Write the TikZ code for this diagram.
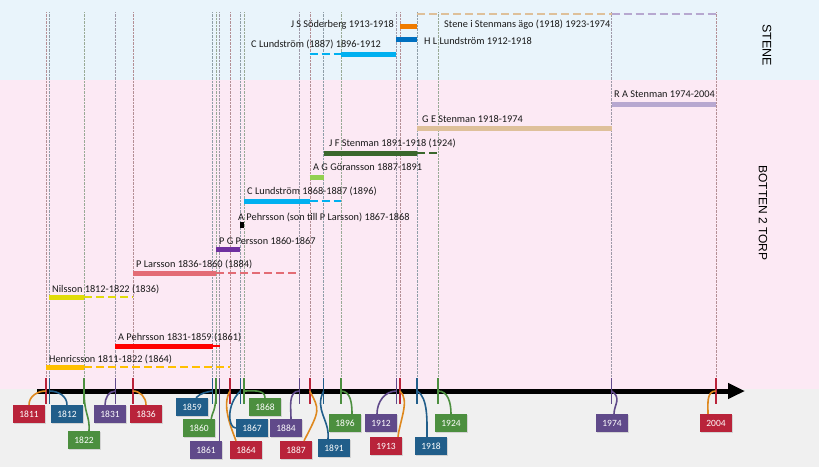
\documentclass[tikz,border=0pt]{standalone}
\usepackage{fontspec}
\setmainfont{Carlito}
\newfontfamily\sidefont{Liberation Sans}
\usetikzlibrary{arrows.meta, shadows}

% Backgrounds
\definecolor{stenebg}{RGB}{233,244,251}
\definecolor{bottenbg}{RGB}{252,233,244}
\definecolor{axisbg}{RGB}{240,240,240}
% Year boxes
\definecolor{boxred}{RGB}{185,35,58}
\definecolor{boxblue}{RGB}{33,94,138}
\definecolor{boxgreen}{RGB}{76,143,63}
\definecolor{boxpurple}{RGB}{96,74,138}
\definecolor{linkorange}{RGB}{222,136,30}
% Owners
\definecolor{henric}{RGB}{255,192,0}
\definecolor{apehr}{RGB}{255,0,0}
\definecolor{nilsson}{RGB}{224,220,10}
\definecolor{plarsson}{RGB}{227,108,117}
\definecolor{pgpersson}{RGB}{112,48,160}
\definecolor{clund}{RGB}{0,176,240}
\definecolor{agoran}{RGB}{146,208,80}
\definecolor{jfsten}{RGB}{58,104,44}
\definecolor{gesten}{RGB}{222,192,154}
\definecolor{rasten}{RGB}{183,168,208}
\definecolor{hllund}{RGB}{0,112,192}
\definecolor{jssod}{RGB}{240,124,0}

\newcommand{\yr}[1]{46+(#1-1811)*3.47}

\begin{document}
\begin{tikzpicture}[x=1pt, y=-1pt,
    every node/.style={inner sep=0pt, font=\fontsize{10.3}{12}\selectfont},
    bar/.style={line width=5pt},
    thinbar/.style={line width=2.6pt},
    later/.style={line width=2.6pt, dash pattern=on 8pt off 4pt},
    who/.style={anchor=base west, text=black!90},
    guide/.style={line width=0.4pt, densely dotted},
    yeartick/.style={line width=1.6pt},
    yearbox/.style={rectangle, minimum width=32pt, minimum height=18pt,
        text=white, font=\fontsize{9.5}{10}\selectfont,
        drop shadow={opacity=0.25, shadow xshift=1pt, shadow yshift=-1pt}},
    link/.style={line width=1.6pt}
]
    \useasboundingbox (0,0) rectangle (819,467);

    % Bands
    \fill[stenebg] (0,0) rectangle (819,80);
    \fill[bottenbg] (0,80) rectangle (819,389);
    \fill[axisbg] (0,389) rectangle (819,467);

    \node[rotate=-90, font=\sidefont\fontsize{12.5}{14}\selectfont] (stene) at (767,45) {STENE};
    \node[rotate=-90, font=\sidefont\fontsize{12}{14}\selectfont] (botten) at (763,213) {BOTTEN 2 TORP};

    % Year marks and guide lines
    \foreach \y/\c in {1811/boxred, 1812/boxblue, 1822/boxgreen, 1831/boxpurple,
        1836/boxred, 1859/boxblue, 1860/boxgreen, 1861/boxpurple, 1864/boxred,
        1867/boxblue, 1868/boxgreen, 1884/boxpurple, 1887/boxred, 1891/boxblue,
        1896/boxgreen, 1912/boxpurple, 1913/boxred, 1918/boxblue, 1924/boxgreen,
        1974/boxpurple, 2004/boxred} {
        \coordinate (t\y) at ({\yr{\y}},391);
        \draw[guide, \c!35!gray!70] ([yshift=13pt]t\y) -- (t\y |- 0,12);
    }

    % Botten 2 Torp
    \draw[bar, henric] ({\yr{1811}},367) -- ({\yr{1822}},367);
    \draw[later, henric] ({\yr{1822}},367) -- ({\yr{1864}},367);
    \node[who] (henricsson) at (49,362.5) {Henricsson 1811-1822 (1864)};

    \draw[bar, apehr] ({\yr{1831}},346) -- ({\yr{1859}},346);
    \draw[thinbar, apehr] ({\yr{1859}},346) -- ({\yr{1861}},346);
    \node[who] (apehrsson) at (118,340.5) {A Pehrsson 1831-1859 (1861)};

    \draw[bar, nilsson] ({\yr{1812}},297) -- ({\yr{1822}},297);
    \draw[later, nilsson] ({\yr{1822}},297) -- ({\yr{1836}},297);
    \node[who] (nilsson) at (52,292.5) {Nilsson 1812-1822 (1836)};

    \draw[bar, plarsson] ({\yr{1836}},273) -- ({\yr{1860}},273);
    \draw[later, plarsson] ({\yr{1860}},273) -- ({\yr{1884}},273);
    \node[who] (plarsson) at (136,267.5) {P Larsson 1836-1860 (1884)};

    \draw[bar, pgpersson] ({\yr{1860}},249) -- ({\yr{1867}},249);
    \node[who] (pgpersson) at (219,244.5) {P G Persson 1860-1867};

    \draw[line width=6pt, black] ({\yr{1867}},225) -- ({\yr{1868}},225);
    \node[who] (apehrson) at (238,220.5) {A Pehrsson (son till P Larsson) 1867-1868};

    \draw[bar, clund] ({\yr{1868}},201) -- ({\yr{1887}},201);
    \draw[later, clund] ({\yr{1887}},201) -- ({\yr{1896}},201);
    \node[who] (clundstrom) at (247,194.5) {C Lundström 1868-1887 (1896)};

    \draw[bar, agoran] ({\yr{1887}},177) -- ({\yr{1891}},177);
    \node[who] (agoransson) at (313,170.5) {A G Göransson 1887-1891};

    \draw[bar, jfsten] ({\yr{1891}},153) -- ({\yr{1918}},153);
    \draw[later, jfsten] ({\yr{1918}},153) -- ({\yr{1924}},153);
    \node[who] (jfstenman) at (329,146.5) {J F Stenman 1891-1918 (1924)};

    \draw[bar, gesten] ({\yr{1918}},128) -- ({\yr{1974}},128);
    \node[who] (gestenman) at (422,122.5) {G E Stenman 1918-1974};

    \draw[bar, rasten] ({\yr{1974}},104) -- ({\yr{2004}},104);
    \node[who] (rastenman) at (614,97.5) {R A Stenman 1974-2004};

    % Stene
    \draw[later, clund] ({\yr{1887}},54) -- ({\yr{1896}},54);
    \draw[bar, clund] ({\yr{1896}},54) -- ({\yr{1912}},54);
    \node[who] (clundstene) at (251,47.5) {C Lundström (1887) 1896-1912};

    \draw[bar, hllund] ({\yr{1912}},39) -- ({\yr{1918}},39);
    \node[who] (hllundstrom) at (424,44.5) {H L Lundström 1912-1918};

    \draw[bar, jssod] ({\yr{1913}},26) -- ({\yr{1918}},26);
    \node[who, anchor=base east] (jssoderberg) at (394,27.5) {J S Söderberg 1913-1918};

    \draw[later, gesten] ({\yr{1918}},14) -- ({\yr{1974}},14);
    \draw[later, rasten] ({\yr{1974}},14) -- ({\yr{2004}},14);
    \node[who] (stenmans) at (444,27.5) {Stene i Stenmans ägo (1918) 1923-1974};

    % Time axis
    \coordinate (axisL) at (37,391);
    \coordinate (axisR) at (745,391);
    \draw[line width=5pt, -{Triangle[length=17pt, width=15pt]}] (axisL) -- (axisR);

    % Year boxes
    \foreach \y/\c/\bx/\by in {1811/boxred/29/414, 1812/boxblue/67/414,
        1822/boxgreen/84/440, 1831/boxpurple/110/414, 1836/boxred/146/414,
        1859/boxblue/192/407, 1860/boxgreen/199/428, 1861/boxpurple/206/450,
        1864/boxred/246/450, 1867/boxblue/252/428, 1868/boxgreen/265/407,
        1884/boxpurple/286/428, 1887/boxred/296/450, 1891/boxblue/334/448,
        1896/boxgreen/345/423, 1912/boxpurple/381/423, 1913/boxred/386/446,
        1918/boxblue/431/446, 1924/boxgreen/451/423, 1974/boxpurple/612/423,
        2004/boxred/716/423} {
        \draw[yeartick, \c] ([yshift=13pt]t\y) -- ([yshift=-13pt]t\y);
        \node[yearbox, fill=\c] (y\y) at (\bx,\by) {\y};
    }

    % Links from marks to boxes
    \draw[link, linkorange] (t1811) to[out=180, in=90] (y1811.north);
    \draw[link, boxblue] (t1812) to[out=0, in=90] (y1812.north);
    \draw[link, boxgreen] (t1822) .. controls (84,415) and (90,415) .. ([xshift=5pt]y1822.north);
    \draw[link, boxpurple] (t1831) to[out=180, in=90] ([xshift=-5pt]y1831.north);
    \draw[link, linkorange] (t1836) to[out=0, in=90] (y1836.north);
    \draw[link, boxblue] (t1859) to[out=190, in=45] ([xshift=4pt]y1859.north);
    \draw[link, boxgreen] (t1860) .. controls (216,412) and (212,412) .. ([xshift=-4pt]y1860.north east);
    \draw[link, boxpurple] (t1861) -- (t1861 |- y1861.north);
    \draw[link, linkorange] (t1864) .. controls (222,405) and (230,425) .. ([xshift=-10pt]y1864.north);
    \draw[link, boxblue] (t1867) .. controls (226,405) and (228,428) .. (y1867.west);
    \draw[link, boxgreen] (t1868) to[out=0, in=90] (y1868.north);
    \draw[link, boxpurple] (t1884) to[out=180, in=90] ([xshift=5pt]y1884.north);
    \draw[link, linkorange] (t1887) .. controls (320,410) .. ([xshift=8pt]y1887.north);
    \draw[link, boxblue] (t1891) .. controls (314,410) and (330,420) .. ([xshift=-6pt]y1891.north);
    \draw[link, boxgreen] (t1896) to[out=0, in=90] ([xshift=7pt]y1896.north);
    \draw[link, boxpurple] (t1912) to[out=180, in=90] ([xshift=-4pt]y1912.north);
    \draw[link, linkorange] (t1913) .. controls (410,400) and (400,420) .. ([xshift=12pt]y1913.north);
    \draw[link, boxblue] (t1918) .. controls (428,398) and (427,420) .. ([xshift=-4pt]y1918.north);
    \draw[link, boxgreen] (t1924) to[out=0, in=90] (y1924.north);
    \draw[link, boxpurple] (t1974) .. controls (622,398) and (614,405) .. ([xshift=2pt]y1974.north);
    \draw[link, linkorange] (t2004) to[out=180, in=90] ([xshift=-8pt]y2004.north);
\end{tikzpicture}
\end{document}
